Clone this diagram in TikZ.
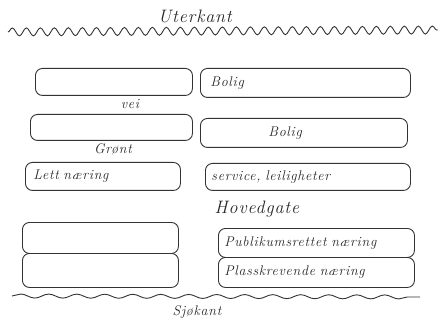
\documentclass[tikz,border=0pt]{standalone}
\usepackage{fontspec}
\newfontfamily\hand{Latin Modern Roman}[LetterSpace=5.0]
\usetikzlibrary{decorations.pathmorphing}
\tikzset{
  ink/.style={draw=black!80, line width=0.9pt},
  handfont/.style={font=\hand\itshape\fontsize{14}{16}\selectfont, text=black!85},
  bighand/.style={font=\hand\itshape\fontsize{18}{20}\selectfont, text=black!85},
  box/.style={ink, handfont, rounded corners=7pt, anchor=north west, inner xsep=6pt, inner ysep=0pt,
    align=left},
  lbl/.style={handfont, inner sep=1pt},
  wave/.style={ink, decorate, decoration={snake, amplitude=#1}},
}
\begin{document}
\begin{tikzpicture}[x=1pt,y=-1pt]
\useasboundingbox (0,0) rectangle (442,326);
% edges
\node[lbl, bighand] (ute) at (195,16) {Uterkant};
\draw[wave=4, decoration={segment length=14pt}] (8,32) -- (438,30);
\draw[wave=2, decoration={segment length=28pt}] (12,296) -- (420,297);
\node[lbl] (sjo) at (197,312) {Sjøkant};
% row 1
\node[box, minimum height=27pt, text width=145pt] (l1) at (35,68) {};
\node[box, minimum height=29pt, text width=198pt] (r1) at (200,68) {\hspace*{4pt}Bolig};
\node[lbl] (vei) at (130,104) {vei};
% row 2
\node[box, minimum height=26pt, text width=150pt] (l2) at (30,114) {};
\node[box, minimum height=29pt, text width=195pt] (r2) at (200,118) {\hspace*{62pt}Bolig};
\node[lbl] (gront) at (113,149) {Grønt};
% row 3
\node[box, minimum height=28pt, text width=143pt] (l3) at (25,162) {\hspace*{2pt}Lett næring};
\node[box, minimum height=27pt, text width=193pt] (r3) at (205,163) {service, leiligheter};
\node[lbl, bighand] (hoved) at (257,209) {Hovedgate};
% row 4/5
\node[box, minimum height=31pt, text width=144pt] (l4) at (22,222) {};
\node[box, minimum height=34pt, text width=144pt] (l5) at (22,253) {};
\node[box, minimum height=29pt, text width=184pt] (r4) at (218,228) {Publikumsrettet næring};
\node[box, minimum height=30pt, text width=184pt] (r5) at (218,257) {Plasskrevende næring};
\end{tikzpicture}
\end{document}
